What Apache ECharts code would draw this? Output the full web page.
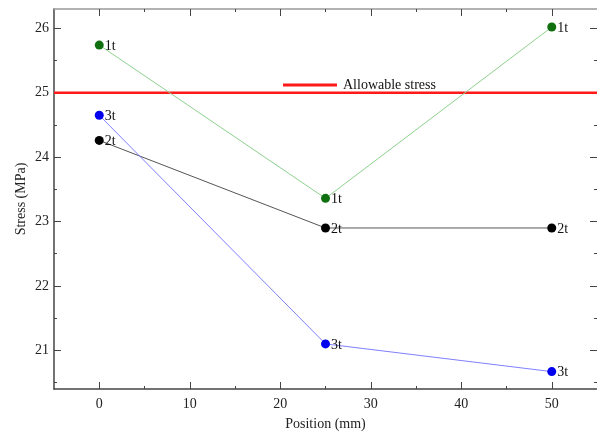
<!DOCTYPE html>
<html>
<head>
<meta charset="utf-8">
<script src="https://cdn.jsdelivr.net/npm/echarts@6/dist/echarts.min.js"></script>
<style>
    html, body { margin: 0; padding: 0; background: #fff; }
    #chart { width: 597px; height: 432px; }
</style>
</head>
<body>
<div id="chart"></div>
<script>
    // data
    var positions = [0, 25, 50];
    var stress1t = [25.74, 23.36, 26.02];
    var stress2t = [24.26, 22.90, 22.90];
    var stress3t = [24.65, 21.10, 20.67];
    var allowable = 25;

    var xMin = -5, xMax = 55;
    var yMin = 20.4, yMax = 26.3;
    var xMajor = [0, 10, 20, 30, 40, 50];
    var xMinor = [5, 15, 25, 35, 45];
    var yMajor = [21, 22, 23, 24, 25, 26];
    var yMinor = [20.5, 21.5, 22.5, 23.5, 24.5, 25.5];

    var font = 'Liberation Serif';

    function pairs(ys){
        return positions.map(function(x, i){ return [x, ys[i]]; });
    }

    function axis(pos, major, isMajor, showLine, lineColor, showLabel, isX){
        return {
            type: 'value',
            position: pos,
            min: isX ? xMin : yMin,
            max: isX ? xMax : yMax,
            splitLine: { show: false },
            axisLine: { show: showLine, onZero: false, lineStyle: { color: lineColor, width: 1.5 } },
            axisTick: {
                show: true,
                inside: true,
                length: isMajor ? 7 : 3,
                customValues: major,
                lineStyle: { color: '#444', width: 1 }
            },
            axisLabel: {
                show: showLabel,
                customValues: major,
                color: '#222',
                fontFamily: font,
                fontSize: 14,
                margin: isX ? 8 : 5
            }
        };
    }

    var chart = echarts.init(document.getElementById('chart'));

    var xAxes = [
        axis('bottom', xMajor, true, true, '#444', true, true),
        axis('bottom', xMinor, false, false, '#444', false, true),
        axis('top', xMajor, true, true, '#999', false, true),
        axis('top', xMinor, false, false, '#999', false, true)
    ];
    xAxes[0].name = 'Position (mm)';
    xAxes[0].nameLocation = 'middle';
    xAxes[0].nameGap = 28;
    xAxes[0].nameTextStyle = { color: '#222', fontFamily: font, fontSize: 14 };

    var yAxes = [
        axis('left', yMajor, true, true, '#444', true, false),
        axis('left', yMinor, false, false, '#444', false, false),
        axis('right', yMajor, true, false, '#999', false, false),
        axis('right', yMinor, false, false, '#999', false, false)
    ];
    yAxes[0].name = 'Stress (MPa)';
    yAxes[0].nameLocation = 'middle';
    yAxes[0].nameGap = 26;
    yAxes[0].nameRotate = 90;
    yAxes[0].nameMoveOverlap = false;
    yAxes[0].nameTextStyle = { color: '#222', fontFamily: font, fontSize: 14 };

    function pointSeries(name, ys, lineColor, dotColor){
        return {
            name: name,
            type: 'line',
            data: pairs(ys),
            symbol: 'circle',
            symbolSize: 9,
            itemStyle: { color: dotColor },
            lineStyle: { color: lineColor, width: 1 },
            label: {
                show: true,
                position: 'right',
                distance: 1,
                offset: [0, 1],
                formatter: name,
                color: '#111',
                fontFamily: font,
                fontSize: 14
            },
            emphasis: { disabled: true },
            z: 3
        };
    }

    var option = {
        animation: false,
        backgroundColor: '#fff',
        grid: { left: 54, right: 0, top: 9, bottom: 43, containLabel: false, outerBoundsMode: 'none' },
        legend: {
            data: [{ name: 'Allowable stress', icon: 'rect' }],
            left: 278,
            top: 73,
            itemWidth: 54,
            itemHeight: 3,
            itemGap: 0,
            textStyle: { color: '#111', fontFamily: font, fontSize: 14, padding: [0, 0, 0, 1] }
        },
        xAxis: xAxes,
        yAxis: yAxes,
        series: [
            {
                name: 'Allowable stress',
                type: 'line',
                data: [[xMin, allowable], [xMax, allowable]],
                symbol: 'none',
                lineStyle: { color: '#ff1a1a', width: 2.5 },
                itemStyle: { color: '#ff1a1a' },
                emphasis: { disabled: true },
                z: 2
            },
            pointSeries('1t', stress1t, '#8fd08f', '#107010'),
            pointSeries('2t', stress2t, '#555555', '#000000'),
            pointSeries('3t', stress3t, '#8080ff', '#0000ee')
        ]
    };

    chart.setOption(option);
</script>
</body>
</html>
